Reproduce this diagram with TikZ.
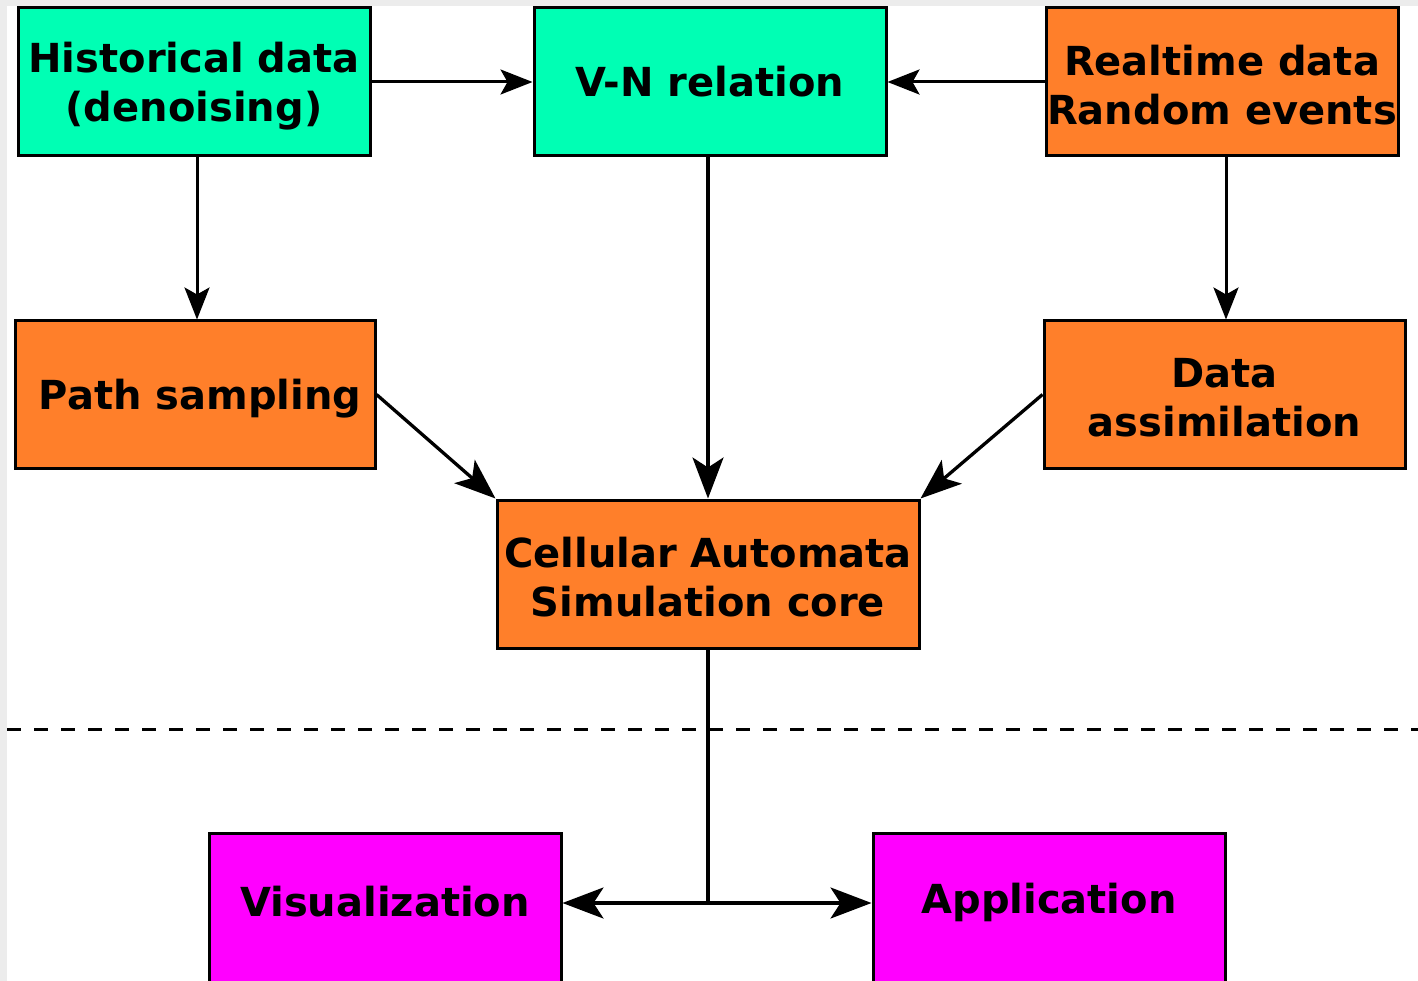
\documentclass[tikz,border=0pt]{standalone}
\usepackage{fontspec}
\setmainfont{DejaVu Sans}
\usetikzlibrary{arrows.meta}

\definecolor{mint}{RGB}{0,255,180}
\definecolor{orangebox}{RGB}{255,127,42}
\definecolor{magentabox}{RGB}{255,0,255}
\definecolor{pagegray}{RGB}{236,236,236}

\tikzset{
  box/.style={draw=black, line width=3pt, inner sep=0pt},
  mintbox/.style={box, fill=mint},
  orangenode/.style={box, fill=orangebox},
  magbox/.style={box, fill=magentabox},
  lbltext/.style={inner sep=0pt, align=center,
    font=\fontsize{40}{49}\selectfont\bfseries, text=black},
  % box caption centred in the box, moved down by #1
  caption/.style 2 args={label={[lbltext, yshift=-#1]center:#2}},
  smallarrow/.style={line width=3pt, -{Stealth[length=32pt, width=25pt, inset=7pt]}},
  bigarrow/.style={line width=3.3pt, -{Stealth[length=41pt, width=31pt, inset=10pt]}},
  plainline/.style={line width=3.3pt},
}

\begin{document}
\begin{tikzpicture}[x=1pt, y=-1pt]
  % page and canvas
  \fill[pagegray] (0,0) rectangle (1418,981);
  \fill[white] (7,6) rectangle (1418,981);
  \useasboundingbox (0,0) rectangle (1418,981);

  % top row
  \node[mintbox, minimum width=352pt, minimum height=148pt,
    caption={4pt}{Historical data\\(denoising)}] (hist) at (194,82) {};
  \node[mintbox, minimum width=352pt, minimum height=148pt,
    caption={0pt}{V-N relation}] (vn) at (710,82) {};
  \node[orangenode, minimum width=352pt, minimum height=148pt,
    caption={3pt}{Realtime data\\Random events}] (rt) at (1222,82) {};

  % middle row
  \node[orangenode, minimum width=360pt, minimum height=147pt,
    caption={4pt}{\hspace*{10pt}Path sampling}] (path) at (195,394.5) {};
  \node[orangenode, minimum width=361pt, minimum height=147pt,
    caption={3pt}{Data\\assimilation}] (da) at (1224.5,394.5) {};

  % simulation core
  \node[orangenode, minimum width=422pt, minimum height=148pt,
    caption={3pt}{Cellular Automata\\Simulation core}] (ca) at (708,574) {};

  % outputs (boxes run past the lower edge)
  \begin{scope}
    \clip (0,0) rectangle (1418,981);
    \node[magbox, minimum width=352pt, minimum height=160pt,
      caption={-11pt}{Visualization}] (vis) at (385,913) {};
    \node[magbox, minimum width=352pt, minimum height=160pt,
      caption={-11pt}{Application}] (app) at (1049,913) {};
  \end{scope}

  % separator
  \draw[line width=3pt, dash pattern=on 14pt off 13pt] (7,729) -- (1418,729);

  % connectors
  \draw[smallarrow] (hist.east) -- (vn.west);
  \draw[smallarrow] (rt.west) -- (vn.east);
  \draw[smallarrow] ([xshift=3pt]hist.south) -- ([xshift=3pt]hist.south |- path.north);
  \draw[smallarrow] ([xshift=4pt]rt.south) -- ([xshift=4pt]rt.south |- da.north);
  \draw[bigarrow] (ca.north |- vn.south) -- (ca.north);
  \draw[bigarrow] (path.east) -- (ca.north west);
  \draw[bigarrow] (da.west) -- (ca.north east);

  \coordinate (split) at (708,903);
  \draw[plainline] (ca.south) -- (split);
  \draw[bigarrow] (split) -- (vis.east |- split);
  \draw[bigarrow] (split) -- (app.west |- split);
\end{tikzpicture}
\end{document}
